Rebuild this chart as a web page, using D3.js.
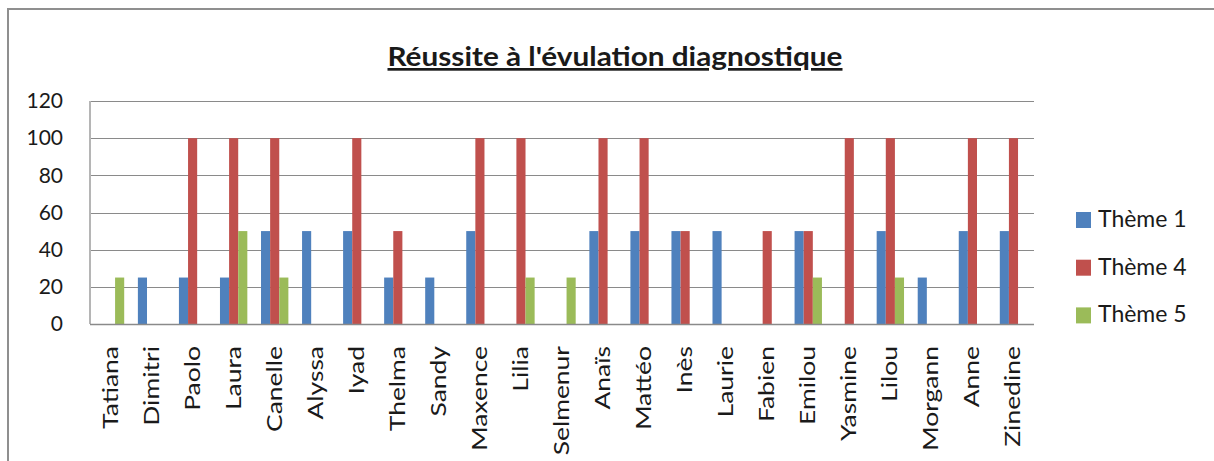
<!DOCTYPE html>
<html>
<head>
<meta charset="utf-8">
<script src="https://cdn.jsdelivr.net/npm/d3@7"></script>
<style>
  body { margin: 0; background: #fff; }
  svg text { font-family: Lato, "Open Sans", sans-serif; fill: #1a1a1a; }
</style>
</head>
<body>
<div id="chartArea"></div>
<script>
// chart data
let eleves = ["Tatiana", "Dimitri", "Paolo", "Laura", "Canelle", "Alyssa", "Iyad", "Thelma",
              "Sandy", "Maxence", "Lilia", "Selmenur", "Anaïs", "Mattéo", "Inès", "Laurie",
              "Fabien", "Emilou", "Yasmine", "Lilou", "Morgann", "Anne", "Zinedine"];
let theme1 = [0, 25, 25, 25, 50, 50, 50, 25, 25, 50, 0, 0, 50, 50, 50, 50, 0, 50, 0, 50, 25, 50, 50];
let theme4 = [0, 0, 100, 100, 100, 0, 100, 50, 0, 100, 100, 0, 100, 100, 50, 0, 50, 50, 100, 100, 0, 100, 100];
let theme5 = [25, 0, 0, 50, 25, 0, 0, 0, 0, 0, 25, 25, 0, 0, 0, 0, 0, 25, 0, 25, 0, 0, 0];
let series_names = ["Thème 1", "Thème 4", "Thème 5"];
let y_ticks = [0, 20, 40, 60, 80, 100, 120];
let titre = "Réussite à l'évulation diagnostique";

let series = [theme1, theme4, theme5];
let colors = ["#4f81bd", "#c0504d", "#9bbb59"];

let W = 1214, H = 461;
let svg = d3.select('#chartArea').append('svg')
   .attr('width', W)
   .attr('height', H);

svg.append('rect').attr('width', W).attr('height', H).attr('fill', '#fff');

// outer frame (right / bottom edges fall outside the picture)
svg.append('rect')
   .attr('x', 8).attr('y', 9)
   .attr('width', W + 20).attr('height', H + 20)
   .attr('fill', 'none')
   .attr('stroke', '#8f8f8f')
   .attr('stroke-width', 2);

let plot = { left: 90, right: 1034, top: 101, bottom: 324 };

// excel-like gap width of 150%
let x = d3.scaleBand()
   .domain(eleves)
   .range([plot.left, plot.right])
   .paddingInner(1 / 3)
   .paddingOuter(1 / 6);

let xs = d3.scaleBand()
   .domain(d3.range(series.length))
   .range([0, x.bandwidth()]);

let y = d3.scaleLinear()
   .domain([0, 120])
   .range([plot.bottom, plot.top]);

// gridlines
svg.append('g')
   .selectAll('line').data(y_ticks.slice(1))
   .enter().append('line')
   .attr('x1', plot.left).attr('x2', plot.right)
   .attr('y1', d => Math.round(y(d)) + 0.5)
   .attr('y2', d => Math.round(y(d)) + 0.5)
   .attr('stroke', '#8a8a8a')
   .attr('stroke-width', 1);

// bars
let groups = svg.append('g')
   .selectAll('g').data(series)
   .enter().append('g')
   .attr('fill', (d, i) => colors[i]);

groups.selectAll('rect')
   .data((d, i) => d.map((v, j) => ({ s: i, name: eleves[j], v: v })))
   .enter().append('rect')
   .filter(d => d.v > 0)
   .attr('x', d => x(d.name) + xs(d.s))
   .attr('width', xs.bandwidth())
   .attr('y', d => y(d.v))
   .attr('height', d => y(0) - y(d.v));

// axes lines
svg.append('line')
   .attr('x1', plot.left).attr('x2', plot.left)
   .attr('y1', plot.top).attr('y2', plot.bottom)
   .attr('stroke', '#b5b5b5').attr('stroke-width', 2);
svg.append('line')
   .attr('x1', plot.left).attr('x2', plot.right)
   .attr('y1', plot.bottom + 0.5).attr('y2', plot.bottom + 0.5)
   .attr('stroke', '#8a8a8a').attr('stroke-width', 1.5);

// y axis labels
let yAxis = d3.axisLeft(y).tickValues(y_ticks).tickSize(0).tickPadding(27);
svg.append('g')
   .attr('transform', `translate(${plot.left},0)`)
   .call(yAxis)
   .call(g => g.select('.domain').remove())
   .selectAll('text')
   .style('font-family', 'Lato, sans-serif')
   .style('font-size', '21px')
   .attr('fill', '#1a1a1a');

// x axis labels, rotated
svg.append('g')
   .selectAll('text').data(eleves)
   .enter().append('text')
   .attr('transform', d => `translate(${x(d) + x.bandwidth() / 2 + 7},346) rotate(-90) scale(1.26,1)`)
   .attr('text-anchor', 'end')
   .style('font-size', '21px')
   .text(d => d);

// title
svg.append('text')
   .attr('x', 615).attr('y', 66)
   .attr('text-anchor', 'middle')
   .style('font-size', '27px')
   .style('font-weight', 'bold')
   .style('text-decoration', 'underline')
   .attr('textLength', 455)
   .attr('lengthAdjust', 'spacingAndGlyphs')
   .text(titre);

// legend
let legend = svg.append('g')
   .selectAll('g').data(series_names)
   .enter().append('g')
   .attr('transform', (d, i) => `translate(1076,${212 + i * 47.7})`);
legend.append('rect')
   .attr('width', 15).attr('height', 16)
   .attr('fill', (d, i) => colors[i]);
legend.append('text')
   .attr('x', 22).attr('y', 15)
   .style('font-size', '23px')
   .text(d => d);
</script>
</body>
</html>
